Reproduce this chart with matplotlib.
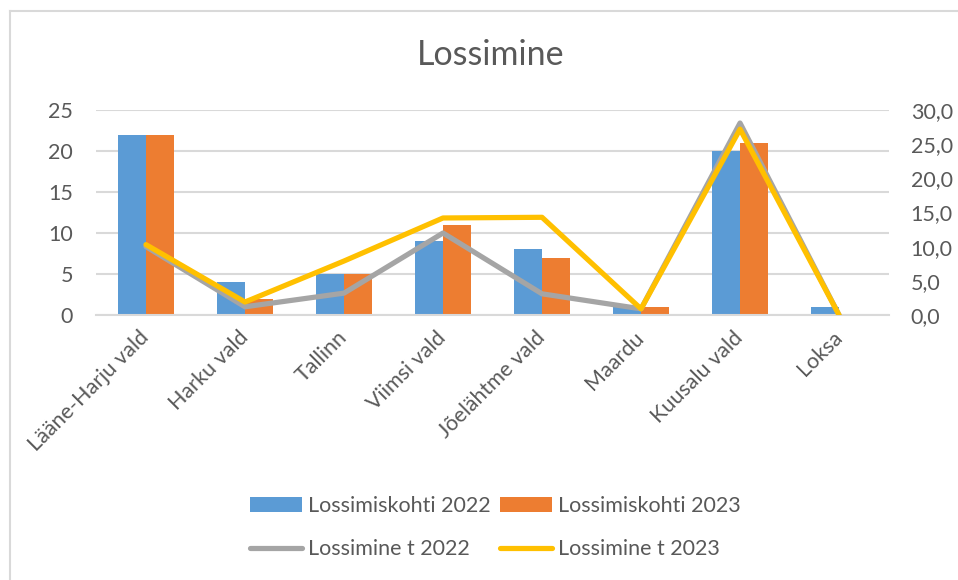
import matplotlib.pyplot as plt
import matplotlib.lines as mlines
import numpy as np

categories = ['Lääne-Harju vald', 'Harku vald', 'Tallinn', 'Viimsi vald',
              'Jõelähtme vald', 'Maardu', 'Kuusalu vald', 'Loksa']
kohti_2022 = [22, 4, 5, 9, 8, 1, 20, 1]
kohti_2023 = [22, 2, 5, 11, 7, 1, 21, 0]
tonnid_2022 = [10.0, 1.2, 3.2, 12.0, 3.1, 0.9, 28.1, 0.0]
tonnid_2023 = [10.3, 1.9, 7.9, 14.2, 14.3, 0.9, 27.2, 0.0]
left_ticks = [0, 5, 10, 15, 20, 25]
right_ticks = [0, 5, 10, 15, 20, 25, 30]

plt.rcParams['font.family'] = ['Lato', 'DejaVu Sans']
txt = '#595959'
grid = '#d9d9d9'
fs = 15.5

fig = plt.figure(figsize=(9.58, 5.8), dpi=100)
ax = fig.add_axes([0.1007, 0.4569, 0.8268, 0.3534])
ax2 = ax.twinx()

x = np.arange(len(categories))
w = 0.283
ax.bar(x - w/2, kohti_2022, w, color='#5b9bd5', label='Lossimiskohti 2022', zorder=2)
ax.bar(x + w/2, kohti_2023, w, color='#ed7d31', label='Lossimiskohti 2023', zorder=2)
ax2.plot(x, tonnid_2022, color='#a5a5a5', lw=3.75, solid_capstyle='round', label='Lossimine t 2022')
ax2.plot(x, tonnid_2023, color='#ffc000', lw=3.75, solid_capstyle='round', label='Lossimine t 2023')

ax.set_xlim(-0.5, len(categories) - 0.5)
ax.set_ylim(0, 25)
ax2.set_ylim(0, 30)
ax.set_yticks(left_ticks)
ax2.set_yticks(right_ticks)
ax2.set_yticklabels([f'{v:.1f}'.replace('.', ',') for v in right_ticks])
ax.set_xticks(x)
ax.set_xticklabels(categories, rotation=45, ha='right', va='center', rotation_mode='anchor')

for a in (ax, ax2):
    for s in a.spines.values():
        s.set_visible(False)
    a.tick_params(length=0, labelsize=fs, colors=txt)
ax.tick_params(axis='y', pad=17)
ax2.tick_params(axis='y', pad=16)
ax.tick_params(axis='x', pad=14)
ax.yaxis.grid(True, color=grid, lw=1.5, zorder=0)
ax.set_axisbelow(True)
ax.spines['bottom'].set_visible(True)
ax.spines['bottom'].set_color(grid)
ax.spines['bottom'].set_linewidth(1.5)

fig.text(0.512, 0.905, 'Lossimine', ha='center', va='center', fontsize=24.5, color=txt)

h1, l1 = ax.get_legend_handles_labels()
h2, l2 = ax2.get_legend_handles_labels()
handles = [h1[0], h2[0], h1[1], h2[1]]
labels = [l1[0], l2[0], l1[1], l2[1]]
fig.legend(handles, labels, ncol=2, loc='center', bbox_to_anchor=(0.517, 0.0905),
           frameon=False, fontsize=fs, labelcolor=txt, handlelength=2.4,
           handletextpad=0.28, columnspacing=0.45, labelspacing=1.1)

fig.add_artist(mlines.Line2D([0.0107, 1], [0.981, 0.981], color=grid, lw=1.5))
fig.add_artist(mlines.Line2D([0.0107, 0.0107], [0, 0.981], color=grid, lw=1.5))

fig.savefig('out.png', dpi=100)
